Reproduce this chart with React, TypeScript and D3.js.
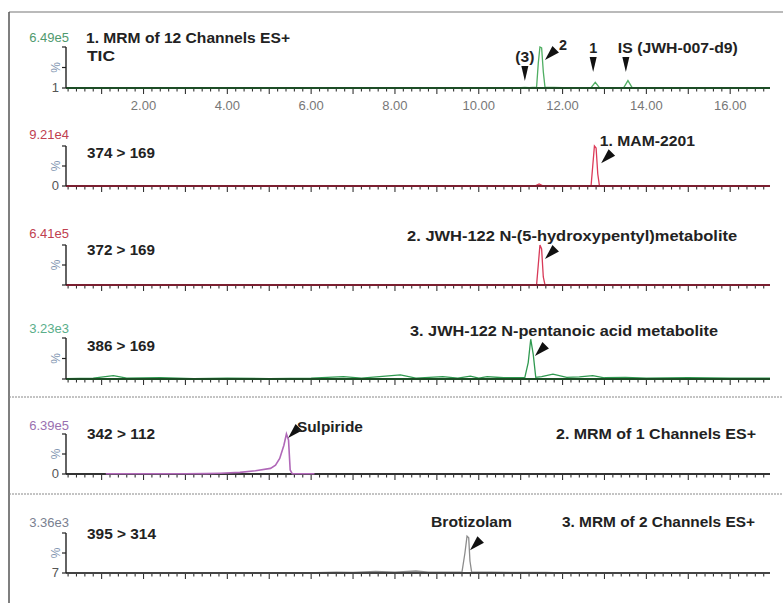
import React from "react";
import * as d3 from "d3";

type Pt = [number, number];

// retention time (min), relative intensity (%)
const ticTrace: Pt[] = [
  [0.15, 0.5], [1, 0.8], [2, 0.6], [3, 0.9], [4, 0.7], [5, 0.8], [6, 0.6], [7, 0.7],
  [8, 0.8], [9, 0.7], [10, 0.9], [11, 0.8], [11.1, 1.5], [11.2, 1], [11.38, 2],
  [11.42, 60], [11.46, 100], [11.5, 98], [11.54, 40], [11.58, 2], [12, 0.8],
  [12.68, 1], [12.78, 14], [12.88, 1], [13.46, 1], [13.56, 18], [13.66, 1],
  [14.5, 0.8], [15.5, 0.7], [16.95, 0.6],
];
const mam2201Trace: Pt[] = [
  [0.15, 0.5], [2, 0.6], [4, 0.5], [6, 0.6], [8, 0.5], [10, 0.6], [11.35, 0.5],
  [11.44, 5], [11.53, 0.5], [12.68, 0.5], [12.72, 50], [12.76, 100], [12.8, 95],
  [12.84, 30], [12.88, 0.5], [14, 0.6], [16.95, 0.5],
];
const jwh122OhTrace: Pt[] = [
  [0.15, 0.5], [2, 0.6], [4, 0.5], [6, 0.6], [8, 0.5], [10, 0.6], [11.38, 0.5],
  [11.42, 50], [11.46, 100], [11.5, 90], [11.54, 20], [11.58, 0.5], [13, 0.6],
  [16.95, 0.5],
];
const jwh122AcidTrace: Pt[] = [
  [0.15, 1], [0.8, 2], [1.28, 8], [1.6, 2], [2.4, 3], [3.2, 1], [4, 2], [5, 1],
  [6, 2], [6.77, 6], [7.2, 2], [8.13, 10], [8.5, 2], [9.14, 6], [9.5, 2], [9.8, 7],
  [10, 2], [10.2, 6], [10.6, 3], [11.1, 4], [11.18, 40], [11.24, 97], [11.3, 60],
  [11.36, 4], [11.5, 6], [11.77, 12], [12.1, 4], [12.4, 5], [12.72, 8], [13, 3],
  [13.5, 4], [14, 2], [15, 3], [16, 2], [16.95, 2],
];
const sulpirideTrace: Pt[] = [
  [1.1, 0.5], [2, 0.5], [3, 0.5], [3.5, 1], [3.84, 2], [4.3, 4], [4.67, 8],
  [5.03, 14], [5.15, 22], [5.25, 39], [5.35, 72], [5.41, 100], [5.46, 85],
  [5.5, 10], [5.55, 0.5], [6.08, 0.5],
];
const brotizolamTrace: Pt[] = [
  [0.15, 0.5], [2, 0.5], [4, 0.5], [6.1, 1], [6.6, 2], [7, 1.5], [7.54, 4], [8, 2],
  [8.5, 5], [8.8, 2], [9.3, 2], [9.6, 3], [9.67, 50], [9.72, 92], [9.76, 88],
  [9.79, 30], [9.83, 2], [10.3, 2], [11, 1.5], [11.6, 1.5], [12, 0.5], [16.95, 0.5],
];

const traces = [ticTrace, mam2201Trace, jwh122OhTrace, jwh122AcidTrace, sulpirideTrace, brotizolamTrace];
const channelLabels = ["TIC", "374 > 169", "372 > 169", "386 > 169", "342 > 112", "395 > 314"];
const maxLabels = ["6.49e5", "9.21e4", "6.41e5", "3.23e3", "6.39e5", "3.36e3"];
const minLabels = ["1", "0", "", "", "0", "7"];
const xTickValues = [2, 4, 6, 8, 10, 12, 14, 16];
const timeDomain: [number, number] = [0.15, 16.95];

const functionTitles = [
  { panel: 0, text: "1. MRM of 12 Channels ES+" },
  { panel: 4, text: "2. MRM of 1 Channels ES+" },
  { panel: 5, text: "3. MRM of 2 Channels ES+" },
];

// peak labels and arrows, in (time, %) of each panel
const peakNotes = [
  { panel: 0, text: "(3)", t: 11.1, pct: 76, tipT: 11.1, tipPct: 17, arrow: "down" },
  { panel: 0, text: "2", t: 12.01, pct: 105, tipT: 11.58, tipPct: 68, arrow: "diag" },
  { panel: 0, text: "1", t: 12.73, pct: 98, tipT: 12.73, tipPct: 39, arrow: "down" },
  { panel: 0, text: "IS (JWH-007-d9)", t: 13.32, pct: 98, tipT: 13.51, tipPct: 39, arrow: "down" },
  { panel: 1, text: "1. MAM-2201", t: 12.89, pct: 115, tipT: 12.92, tipPct: 57, arrow: "diag" },
  { panel: 2, text: "2. JWH-122 N-(5-hydroxypentyl)metabolite", t: 8.29, pct: 125, tipT: 11.58, tipPct: 65, arrow: "diag" },
  { panel: 3, text: "3. JWH-122 N-pentanoic acid metabolite", t: 8.36, pct: 119, tipT: 11.34, tipPct: 56, arrow: "diag" },
  { panel: 4, text: "Sulpiride", t: 5.66, pct: 120, tipT: 5.45, tipPct: 90, arrow: "diag" },
  { panel: 5, text: "Brotizolam", t: 8.86, pct: 130, tipT: 9.79, tipPct: 57, arrow: "diag" },
];

// layout
const W = 783;
const H = 603;
const axisLeft = 66;
const axisRight = 770;
const axisTopY = [47, 146, 245, 338, 434, 533];
const baseY = [88, 186, 285, 379, 474, 573];
const maxLabelY = [37, 134, 233, 328, 425, 522];
const channelLabelY = [55, 152, 249, 345, 433, 533];
const channelLabelW = [28, 68, 68, 68, 68, 69];
const titlePos = [
  { x: 86, y: 37, w: 204 },
  { x: 556, y: 433, w: 200 },
  { x: 562, y: 521, w: 193 },
];
const noteWidths: Record<string, number> = {
  "(3)": 19,
  "2": 8,
  "1": 8,
  "IS (JWH-007-d9)": 120,
  "1. MAM-2201": 95,
  "2. JWH-122 N-(5-hydroxypentyl)metabolite": 330,
  "3. JWH-122 N-pentanoic acid metabolite": 308,
  Sulpiride: 66,
  Brotizolam: 81,
};
const labelColors = ["#4f9a6e", "#c04050", "#c04050", "#5aae8a", "#9a70b0", "#7a8090"];
const traceColors = ["#4fae62", "#dc3a58", "#d83a58", "#2f9a50", "#b068b8", "#8c8c8c"];
const axisColors = ["#1d4d26", "#7a1f30", "#7a1f30", "#1d4d26", "#333333", "#444444"];
const font = "'Liberation Sans', Arial, sans-serif";
const boldSize = 15;

const x = d3.scaleLinear().domain(timeDomain).range([axisLeft, axisRight]);
const tickSteps = d3.range(1, 85); // every 0.2 min

function Panel({ i }: { i: number }) {
  const y = d3.scaleLinear().domain([0, 100]).range([baseY[i], axisTopY[i]]);
  const line = d3.line<Pt>().x((d) => x(d[0])).y((d) => y(d[1]));
  const mid = (axisTopY[i] + baseY[i]) / 2;
  const ax = axisColors[i];
  const onTop = i === 4;
  const traceEl = (
    <path d={line(traces[i]) ?? ""} fill="none" stroke={traceColors[i]} strokeWidth={onTop ? 1.6 : 1.3} />
  );
  return (
    <g>
      {!onTop && traceEl}
      <line x1={axisLeft} x2={axisRight} y1={baseY[i]} y2={baseY[i]} stroke={ax} strokeWidth={2} />
      {onTop && traceEl}
      <line x1={axisLeft} x2={axisLeft} y1={axisTopY[i]} y2={baseY[i]} stroke="#222" strokeWidth={1.4} />
      {[axisTopY[i], mid, baseY[i]].map((v, k) => (
        <line key={k} x1={axisLeft - 4} x2={axisLeft} y1={v} y2={v} stroke="#222" strokeWidth={1.2} />
      ))}
      {tickSteps.map((s) => (
        <line
          key={s}
          x1={x(s * 0.2)}
          x2={x(s * 0.2)}
          y1={baseY[i] + 1}
          y2={baseY[i] + (s % 5 === 0 ? 6 : 3.5)}
          stroke="#333"
          strokeWidth={1.1}
        />
      ))}
      <text x={axisLeft + 3} y={maxLabelY[i]} textAnchor="end" dominantBaseline="central"
        fontFamily={font} fontSize={13} fill={labelColors[i]}>
        {maxLabels[i]}
      </text>
      <text x={axisLeft - 10} y={mid} textAnchor="middle" dominantBaseline="central"
        fontFamily={font} fontSize={12} fill="#7f95b0" transform={`rotate(-90 ${axisLeft - 10} ${mid})`}>
        %
      </text>
      {minLabels[i] && (
        <text x={axisLeft - 7} y={baseY[i] - 1} textAnchor="end" dominantBaseline="central"
          fontFamily={font} fontSize={13} fill="#555">
          {minLabels[i]}
        </text>
      )}
      <text x={87} y={channelLabelY[i]} dominantBaseline="central" fontFamily={font}
        fontWeight="bold" fontSize={boldSize} fill="#222"
        textLength={channelLabelW[i]} lengthAdjust="spacingAndGlyphs">
        {channelLabels[i]}
      </text>
      {i === 0 &&
        xTickValues.map((v) => (
          <text key={v} x={x(v)} y={baseY[i] + 17} textAnchor="middle" dominantBaseline="central"
            fontFamily={font} fontSize={13} fill="#777">
            {v.toFixed(2)}
          </text>
        ))}
      {peakNotes
        .filter((n) => n.panel === i)
        .map((n, k) => {
          const tx = x(n.tipT);
          const ty = y(n.tipPct);
          let arrow: string;
          if (n.arrow === "down") {
            arrow = `M${tx},${ty} L${tx - 3.5},${ty - 15} L${tx + 3.5},${ty - 15} Z`;
          } else {
            // wedge pointing down-left to the tip
            const bx = tx + 11;
            const by = ty - 11;
            arrow = `M${tx},${ty} L${bx - 3.5},${by - 3} L${bx + 3},${by + 3.5} Z`;
          }
          const w = noteWidths[n.text];
          const anchor = n.text.length <= 3 ? "middle" : "start";
          return (
            <g key={k}>
              <path d={arrow} fill="#111" />
              <text x={x(n.t)} y={y(n.pct)} textAnchor={anchor} dominantBaseline="central"
                fontFamily={font} fontWeight="bold" fontSize={boldSize} fill="#222"
                textLength={w} lengthAdjust="spacingAndGlyphs">
                {n.text}
              </text>
            </g>
          );
        })}
      {functionTitles
        .filter((f) => f.panel === i)
        .map((f, k) => {
          const p = titlePos[functionTitles.indexOf(f)];
          return (
            <text key={k} x={p.x} y={p.y} dominantBaseline="central" fontFamily={font}
              fontWeight="bold" fontSize={boldSize} fill="#222" textLength={p.w}
              lengthAdjust="spacingAndGlyphs">
              {f.text}
            </text>
          );
        })}
    </g>
  );
}

export default function App() {
  return (
    <svg width={W} height={H} style={{ position: "absolute", left: 0, top: 0, background: "#fff" }}>
      <rect width={W} height={H} fill="#fff" />
      <line x1={9} x2={W} y1={12} y2={12} stroke="#777" strokeWidth={1.2} />
      <line x1={9} x2={9} y1={12} y2={H} stroke="#555" strokeWidth={1.5} />
      <line x1={9} x2={W} y1={397} y2={397} stroke="#888" strokeWidth={1} strokeDasharray="2,1" />
      <line x1={9} x2={W} y1={494} y2={494} stroke="#888" strokeWidth={1} strokeDasharray="2,1" />
      {traces.map((_, i) => (
        <Panel key={i} i={i} />
      ))}
    </svg>
  );
}
